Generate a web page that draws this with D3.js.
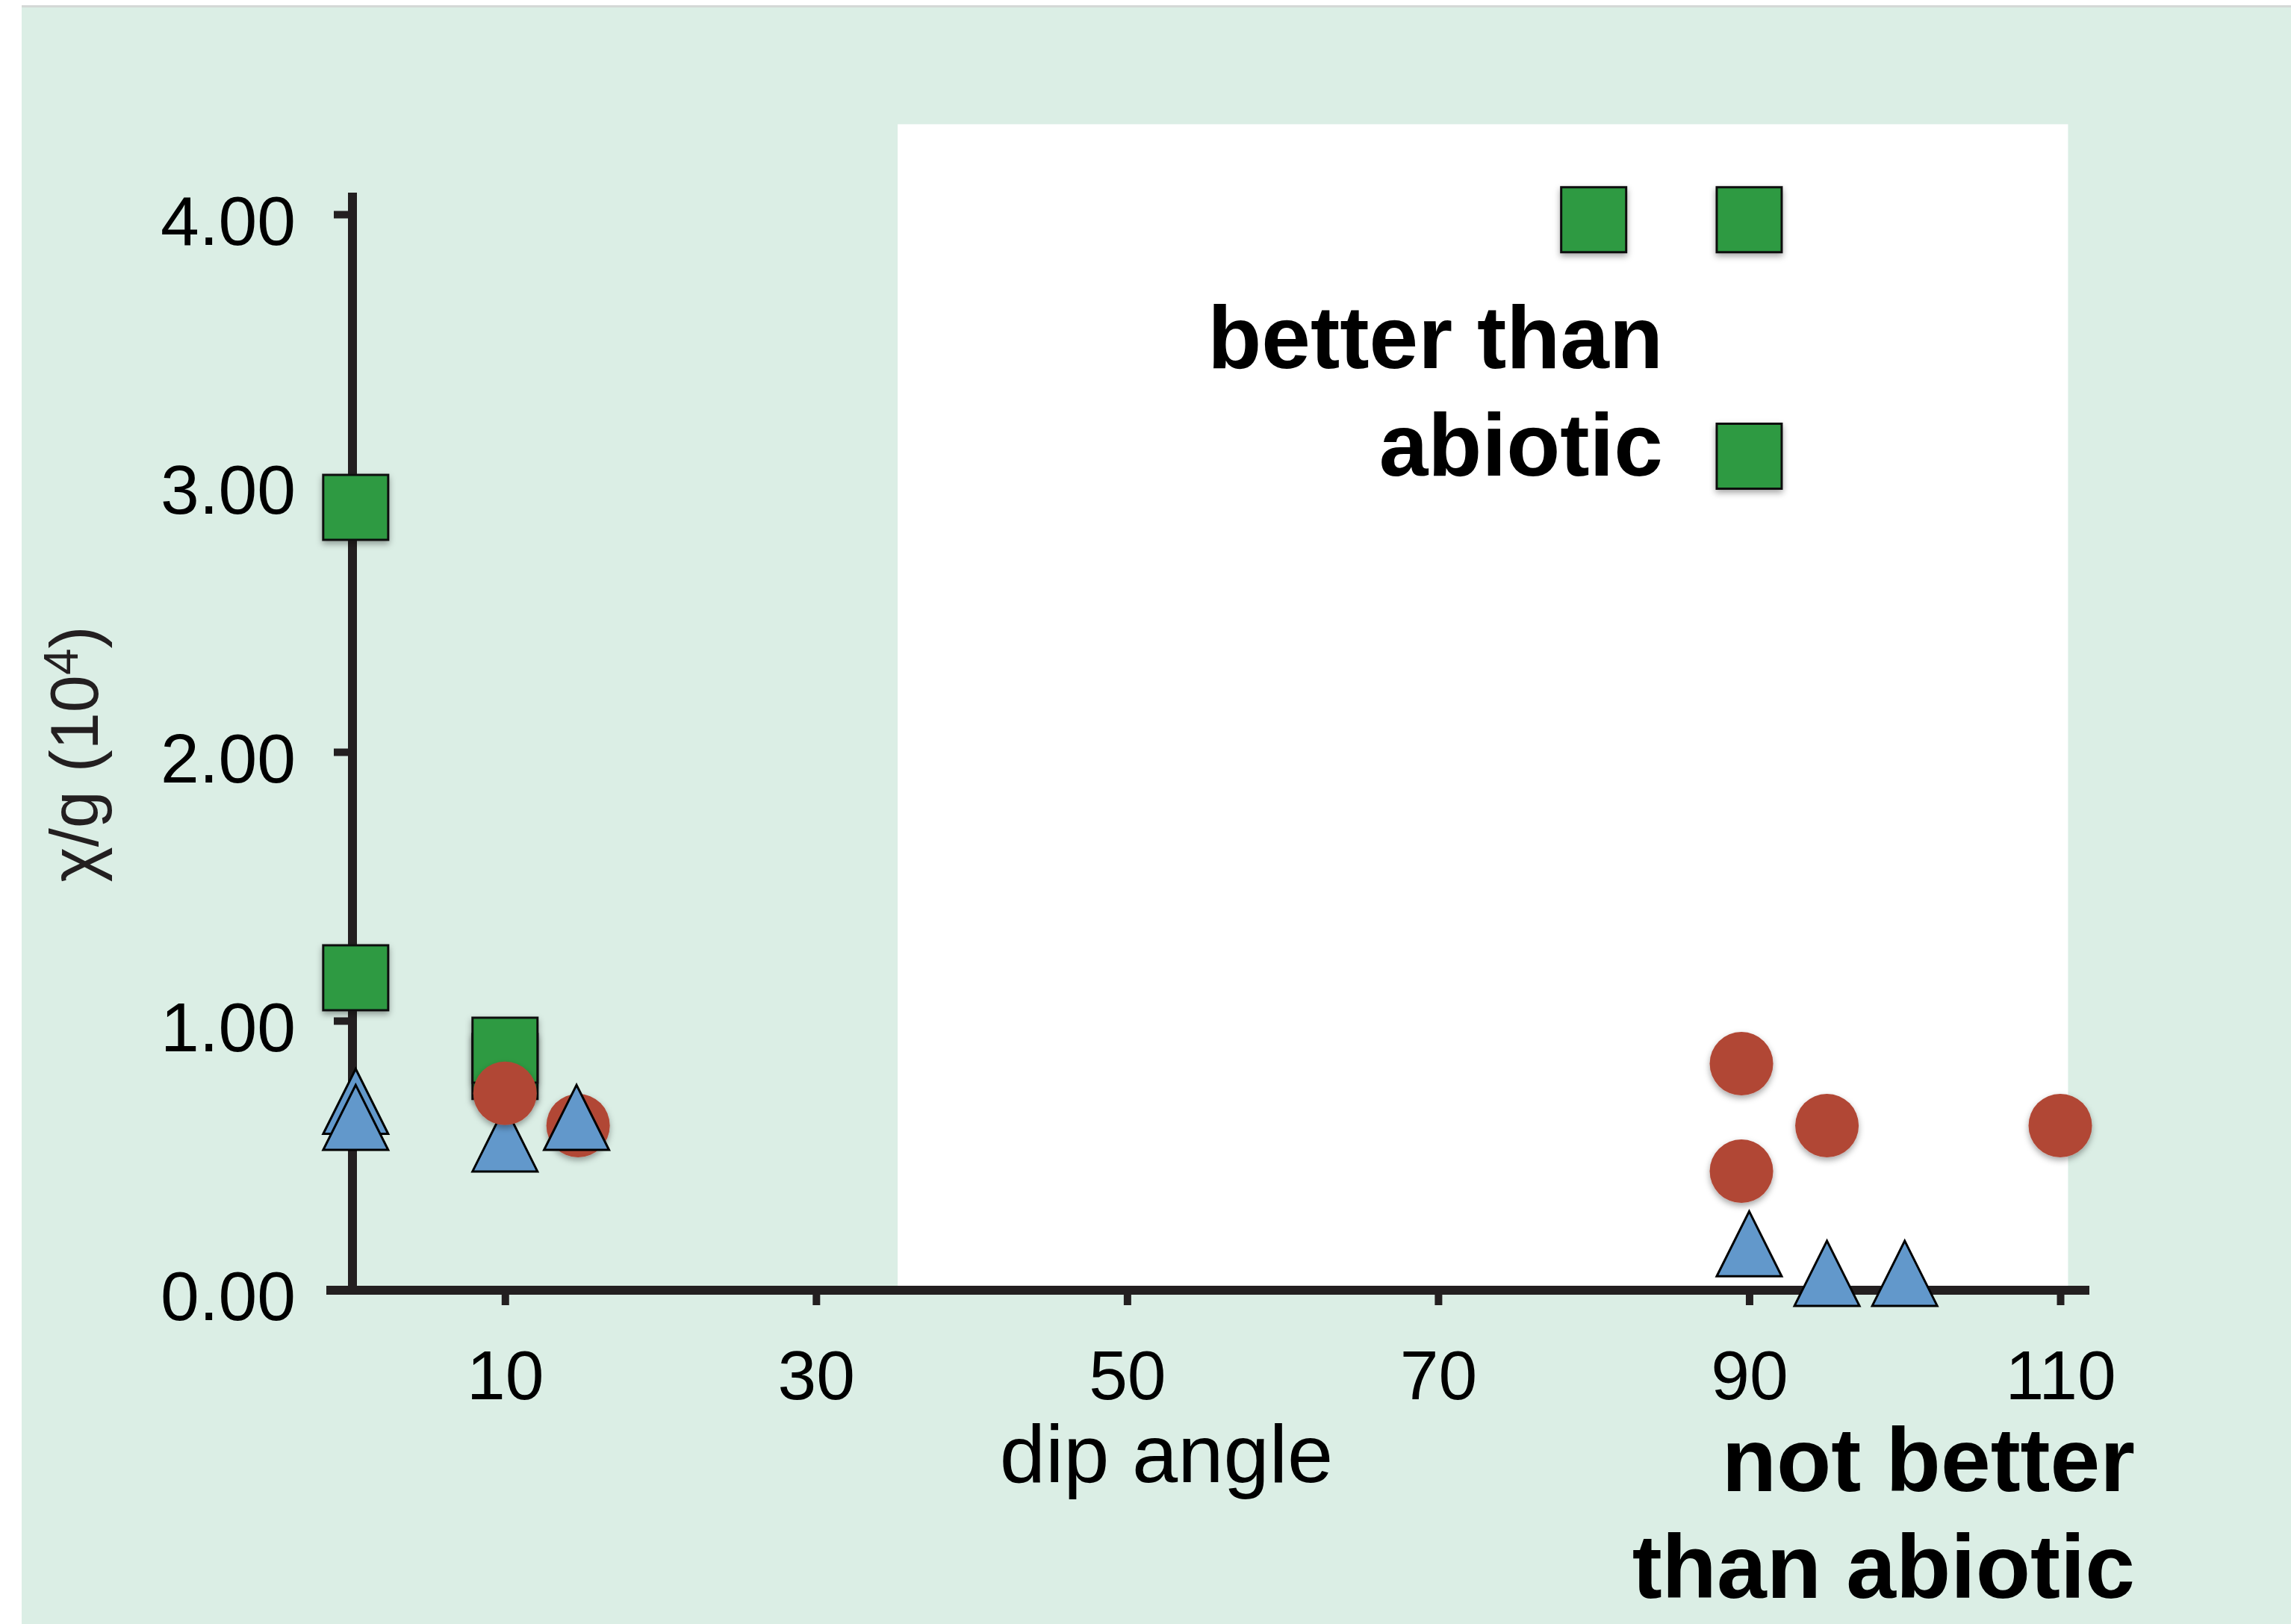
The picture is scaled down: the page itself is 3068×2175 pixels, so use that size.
<!DOCTYPE html>
<html>
<head>
<meta charset="utf-8">
<script src="https://cdn.jsdelivr.net/npm/d3@7"></script>
<style>
  body { margin: 0; background: #fff; }
  text { font-family: "Liberation Sans", Arial, Helvetica, sans-serif; fill: #000; }
</style>
</head>
<body>
<script>
 // green squares (better than abiotic)
 const sqDip = [0.4, 0.4, 10, 10, 80, 90, 90];
 const sqChi = [2.91, 1.16, 0.83, 0.89, 3.98, 3.98, 3.10];

 // red circles
 const ciDip = [10, 14.7, 89.5, 89.5, 95, 110];
 const ciChi = [0.73, 0.61, 0.84, 0.44, 0.61, 0.61];

 // blue triangles
 const trDip = [0.4, 0.4, 10, 14.6, 90, 95, 100];
 const trChi = [0.70, 0.64, 0.56, 0.64, 0.17, 0.06, 0.06];

 // axes
 const xTicks = [10, 30, 50, 70, 90, 110];
 const yTicks = [0, 1, 2, 3, 4];
 const xTitle = "dip angle";
 const upperNote = ["better than", "abiotic"];
 const lowerNote = ["not better", "than abiotic"];

 // constants
 const width = 3068;
 const height = 2175;
 const ink = "#231f20";
 const colors = { square: "#2e9a42", circle: "#b14735", triangle: "#6298cb" };
 const markSize = 87;

 const svg = d3.select("body").append("svg")
       .attr("width", width).attr("height", height);

 // soft shadow under squares and circles
 svg.append("defs").append("filter").attr("id", "shadow")
    .attr("x", "-30%").attr("y", "-30%").attr("width", "160%").attr("height", "160%")
    .append("feDropShadow")
    .attr("dx", 0).attr("dy", 4).attr("stdDeviation", 4)
    .attr("flood-color", "#000").attr("flood-opacity", 0.35);

 // scales
 const xScale = d3.scaleLinear().domain([0, 110]).range([468, 2759]);
 const yScale = d3.scaleLinear().domain([0, 4]).range([1727, 287]);

 // page background
 svg.append("rect").attr("x", 29).attr("y", 10)
    .attr("width", width - 29).attr("height", height - 10)
    .style("fill", "#dbeee5");
 svg.append("line").attr("x1", 29).attr("x2", width).attr("y1", 8.5).attr("y2", 8.5)
    .style("stroke", "#d4d8d6").style("stroke-width", 3);

 // white panel behind the right hand group
 svg.append("rect")
    .attr("x", xScale(35.25)).attr("y", yScale(4.335))
    .attr("width", xScale(110.5) - xScale(35.25))
    .attr("height", yScale(0) - yScale(4.335))
    .style("fill", "#fff");

 // y axis
 const axisX = 472;
 const yAxis = svg.append("g").attr("transform", `translate(${axisX},0)`)
       .call(d3.axisLeft(yScale).tickValues(yTicks).tickSize(25).tickPadding(51)
             .tickFormat(d3.format(".2f")));
 yAxis.select(".domain").remove();
 yAxis.attr("font-family", null).attr("font-size", null);
 yAxis.selectAll(".tick line").style("stroke", ink).style("stroke-width", 10);
 yAxis.selectAll(".tick text").style("font-size", "93px").attr("dy", "0.43em");
 yAxis.append("line").attr("x1", 0).attr("x2", 0).attr("y1", 258).attr("y2", yScale(0) + 7)
      .style("stroke", ink).style("stroke-width", 12);

 // x axis
 const axisY = yScale(0) + 1;
 const xAxis = svg.append("g").attr("transform", `translate(0,${axisY})`)
       .call(d3.axisBottom(xScale).tickValues(xTicks).tickSize(20).tickPadding(60));
 xAxis.select(".domain").remove();
 xAxis.attr("font-family", null).attr("font-size", null);
 xAxis.selectAll(".tick line").style("stroke", ink).style("stroke-width", 10);
 xAxis.selectAll(".tick text").style("font-size", "93px");
 xAxis.append("line").attr("x1", 437).attr("x2", 2798).attr("y1", 0).attr("y2", 0)
      .style("stroke", ink).style("stroke-width", 12);

 // axis titles
 svg.append("text").attr("x", 1562).attr("y", 1985)
    .attr("text-anchor", "middle").style("font-size", "110px").text(xTitle);

 const yTitle = svg.append("text").attr("transform", "translate(131,1010) rotate(-90)")
       .attr("text-anchor", "middle").style("font-size", "90px").style("fill", ink);
 yTitle.append("tspan").text("\u03c7/g (10");
 yTitle.append("tspan").attr("dy", -27).style("font-size", "64px").text("4");
 yTitle.append("tspan").attr("dy", 27).text(")");

 // marks
 const tallTriangle = {
    draw(ctx, size) {
       const w = Math.sqrt(size);
       ctx.moveTo(0, -w / 2);
       ctx.lineTo(w / 2, w / 2);
       ctx.lineTo(-w / 2, w / 2);
       ctx.closePath();
    }
 };

 const squares = sqDip.map((d, i) => ({ dip: d, chi: sqChi[i] }));
 const circles = ciDip.map((d, i) => ({ dip: d, chi: ciChi[i] }));
 const triangles = trDip.map((d, i) => ({ dip: d, chi: trChi[i] }));

 svg.append("g").selectAll("path").data(squares).enter().append("path")
    .attr("transform", (d) => `translate(${xScale(d.dip)},${yScale(d.chi)})`)
    .attr("d", d3.symbol().type(d3.symbolSquare).size(markSize * markSize))
    .style("fill", colors.square).style("stroke", "#111").style("stroke-width", 3)
    .attr("filter", "url(#shadow)");

 const pts = svg.append("g");
 pts.selectAll("path.circle").data(circles).enter().append("path").attr("class", "circle")
    .attr("transform", (d) => `translate(${xScale(d.dip)},${yScale(d.chi)})`)
    .attr("d", d3.symbol().type(d3.symbolCircle).size(Math.PI * 42.5 * 42.5))
    .style("fill", colors.circle)
    .attr("filter", "url(#shadow)");

 pts.selectAll("path.tri").data(triangles).enter().append("path").attr("class", "tri")
    .attr("transform", (d) => `translate(${xScale(d.dip)},${yScale(d.chi)})`)
    .attr("d", d3.symbol().type(tallTriangle).size(markSize * markSize))
    .style("fill", colors.triangle).style("stroke", "#000").style("stroke-width", 3);

 // the triangle at 10 sits under its circle
 pts.selectAll("path.tri").filter((d) => d.dip === 10).lower();

 // notes
 const upper = svg.append("text").attr("text-anchor", "end")
       .style("font-size", "118px").style("font-weight", "bold");
 upper.selectAll("tspan").data(upperNote).enter().append("tspan")
      .attr("x", 2227).attr("y", (d, i) => 493 + i * 144).text((d) => d);

 const lower = svg.append("text").attr("text-anchor", "end")
       .style("font-size", "120px").style("font-weight", "bold");
 lower.selectAll("tspan").data(lowerNote).enter().append("tspan")
      .attr("x", 2859).attr("y", (d, i) => 1997 + i * 143).text((d) => d);
</script>
</body>
</html>
